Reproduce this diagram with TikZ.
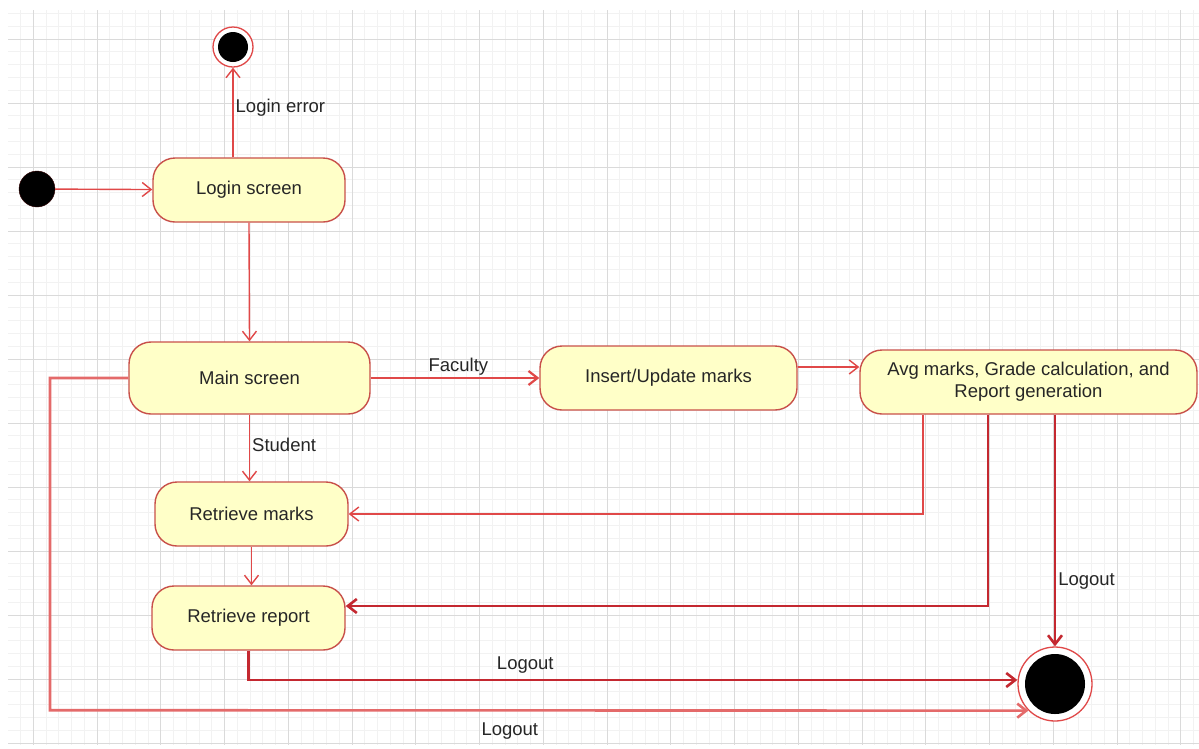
\documentclass[tikz,border=0pt]{standalone}
\usepackage{fontspec}
\setmainfont{Liberation Sans}
\usetikzlibrary{arrows.meta}
\definecolor{boxfill}{HTML}{FFFFC8}
\definecolor{boxline}{HTML}{C8504A}
\definecolor{trred}{HTML}{E04848}
\definecolor{trdark}{HTML}{C42830}
\definecolor{trpink}{HTML}{E46A6A}
\definecolor{txt}{HTML}{262626}
\definecolor{gridmajor}{HTML}{DADADA}
\definecolor{gridminor}{HTML}{F2F2F2}
\tikzset{
  every node/.style={font=\fontsize{18.5}{22}\selectfont, text=txt},
  state/.style={draw=boxline, line width=1.4pt, fill=boxfill, rounded corners=22pt,
    inner sep=0pt, align=center},
  startstate/.style={circle, fill=black, draw=black!80!red, inner sep=0pt, minimum size=36pt},
  endstate/.style={circle, draw=trred, line width=1.3pt, fill=white, inner sep=0pt},
  tr/.style={draw=trred, line width=1.4pt, -{Straight Barb[length=9pt,width=14pt]}},
  trthick/.style={tr, draw=trdark, line width=2.6pt},
  trloop/.style={tr, draw=trpink, line width=2.6pt},
  lbl/.style={inner sep=2pt},
}
\begin{document}
\begin{tikzpicture}[x=1pt,y=-1pt]
\useasboundingbox (0,0) rectangle (1199,748);
\fill[white] (0,0) rectangle (1199,748);
% background grid
\begin{scope}
  \clip (8,10) rectangle (1199,745);
  \foreach \i in {-4,...,95} {
    \draw[gridminor, line width=0.8pt] (33.25+\i*12.75,10) -- (33.25+\i*12.75,745);
  }
  \foreach \i in {-4,...,60} {
    \draw[gridminor, line width=0.8pt] (8,39+\i*12.8) -- (1199,39+\i*12.8);
  }
  \foreach \i in {0,...,18} {
    \draw[gridmajor, line width=1pt] (33.25+\i*63.75,10) -- (33.25+\i*63.75,745);
  }
  \foreach \i in {0,...,11} {
    \draw[gridmajor, line width=1pt] (8,39+\i*64) -- (1199,39+\i*64);
  }
\end{scope}

% states
\node[startstate] (init) at (37,189) {};
\node[endstate, minimum size=40pt,
  path picture={\fill[black] (path picture bounding box.center) circle (15pt);}]
  (fin1) at (233,47) {};
\node[endstate, minimum size=74pt,
  path picture={\fill[black] (path picture bounding box.center) circle (30pt);}]
  (fin2) at (1055,684) {};

\node[state, minimum width=192pt, minimum height=64pt] (login) at (249,190) {Login screen};
\node[state, minimum width=241pt, minimum height=72pt] (main) at (249.5,378) {Main screen};
\node[state, minimum width=193pt, minimum height=64pt] (rmarks) at (251.5,514) {Retrieve marks};
\node[state, minimum width=193pt, minimum height=64pt] (rreport) at (248.5,618) {Retrieve report};
\node[state, minimum width=257pt, minimum height=64pt] (insert) at (668.5,378) {Insert/Update marks};
\node[state, minimum width=337pt, minimum height=64pt] (avg) at (1028.5,382)
  {Avg marks, Grade calculation, and\\Report generation};

\coordinate (lbend) at (50,710.2);

% transitions
\draw[tr] (init) -- (login);
\draw[tr] (fin1 |- login.north) -- node[lbl, right, pos=0.55] {Login error} (fin1.south);
\draw[tr] (login.south) -- (main.north);
\draw[tr, line width=2.2pt] (main.east) -- node[lbl, above, pos=0.52] {Faculty} (insert.west);
\draw[tr] ([yshift=11pt]insert.east) -- ([yshift=11pt]insert.east -| avg.west);
\draw[tr] (main.south) -- node[lbl, right, pos=0.45] {Student} (main.south |- rmarks.north);
\draw[tr] (rmarks.south) -- (rmarks.south |- rreport.north);
\draw[tr] ([xshift=-105.5pt]avg.south) |- (rmarks.east);
\draw[trthick] ([xshift=-40.5pt]avg.south) |- ([yshift=12pt]rreport.east);
\draw[trthick] (fin2.north |- avg.south) -- node[lbl, right, pos=0.72] {Logout} (fin2.north);
\draw[trthick] (rreport.south) |- node[lbl, above, pos=0.68, yshift=3pt] {Logout} ([yshift=4pt]fin2.west);
\draw[trloop] (main.west) -| (lbend) -- node[lbl, below, pos=0.47, yshift=-9pt] {Logout} (fin2.south west);
\end{tikzpicture}
\end{document}
